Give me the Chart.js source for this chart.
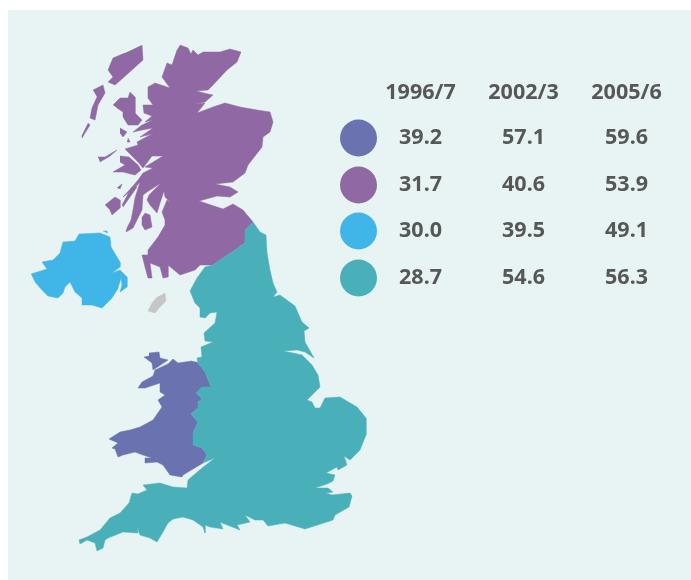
<!DOCTYPE html>
<html>
<head>
<meta charset="utf-8">
<title>UK map</title>
<script src="https://cdn.jsdelivr.net/npm/chart.js@4/dist/chart.umd.min.js"></script>
<style>
  html, body { margin: 0; padding: 0; background: #fff; }
  #wrap { position: relative; width: 691px; height: 580px; overflow: hidden; }
  #panel { position: absolute; left: 8px; top: 10px; right: 0; bottom: 0; background: #e8f4f4; }
  #map { position: absolute; left: 0; top: 0; }
</style>
</head>
<body>
<div id="wrap">
  <div id="panel"></div>
  <canvas id="map" width="691" height="580"></canvas>
</div>
<script>
//Table values
const years = ['1996/7', '2002/3', '2005/6'];
const walesValues = ['39.2', '57.1', '59.6'];
const scotlandValues = ['31.7', '40.6', '53.9'];
const irelandValues = ['30.0', '39.5', '49.1'];
const englandValues = ['28.7', '54.6', '56.3'];

//Map outlines
const england = [[253,222],[260,232],[266,235],[267,253],[270,270],[273,283],[277,292],[273,297],[280,295],[295,306],[302,322],[309,328],[304,331],[305,342],[314,358],[305,352],[297,350],[283,351],[293,353],[302,355],[312,365],[318,375],[320,387],[312,395],[307,400],[312,402],[315,408],[320,408],[325,398],[340,397],[357,407],[366,418],[366,435],[360,450],[350,460],[344,456],[347,465],[338,470],[337,467],[326,473],[335,475],[333,481],[327,484],[315,488],[328,488],[333,492],[326,493],[332,495],[350,493],[352,496],[349,507],[335,515],[333,520],[305,529],[285,523],[268,526],[263,520],[255,520],[245,515],[250,522],[237,525],[240,530],[222,523],[220,522],[223,529],[210,527],[205,525],[205,533],[203,527],[193,520],[183,517],[173,519],[168,523],[163,532],[157,542],[150,538],[140,535],[137,527],[138,533],[123,532],[108,538],[105,540],[103,548],[97,551],[95,543],[87,540],[80,544],[79,540],[87,537],[100,530],[110,518],[120,513],[129,503],[132,493],[138,494],[147,490],[143,485],[160,483],[173,487],[187,488],[188,480],[202,468],[215,458],[203,463],[207,455],[202,448],[193,445],[193,433],[198,422],[191,414],[198,408],[198,402],[202,399],[196,393],[202,387],[211,387],[205,372],[198,363],[197,358],[202,357],[201,347],[213,342],[205,341],[204,333],[215,323],[217,312],[210,313],[205,318],[200,317],[200,308],[195,303],[190,291],[197,278],[205,267],[213,265],[223,258],[235,250],[246,242],[245,230]];
const wales = [[197,362],[205,372],[211,387],[202,387],[196,393],[202,399],[198,402],[198,408],[191,414],[198,422],[193,433],[193,445],[202,448],[207,455],[203,463],[183,475],[182,477],[170,475],[163,465],[157,462],[145,463],[145,458],[152,458],[143,455],[135,452],[123,455],[118,457],[115,449],[112,448],[118,443],[109,439],[120,432],[130,430],[140,427],[153,420],[162,407],[158,400],[165,395],[160,392],[160,383],[145,388],[138,388],[142,382],[153,376],[155,370],[168,364],[173,359],[178,363],[192,361]];
const anglesey = [[149,353],[159,352],[160,358],[168,360],[153,370],[152,363],[144,357],[149,356]];
const scotland = [[180,45],[188,48],[191,54],[193,50],[198,55],[203,52],[220,52],[230,49],[241,52],[237,62],[227,70],[213,85],[208,90],[196,91],[208,94],[213,95],[205,102],[195,104],[205,103],[197,113],[213,107],[225,103],[240,107],[257,110],[270,112],[273,122],[270,132],[263,137],[262,147],[248,165],[245,173],[233,182],[215,184],[230,187],[238,192],[230,197],[217,196],[199,201],[217,207],[223,209],[233,204],[243,210],[253,222],[245,230],[246,242],[235,250],[223,258],[213,265],[200,265],[195,270],[180,275],[168,265],[168,277],[163,278],[160,267],[150,263],[152,278],[148,278],[145,267],[142,255],[148,255],[148,250],[158,237],[165,225],[165,220],[162,212],[167,200],[171,203],[165,197],[164,191],[160,203],[157,213],[150,205],[147,200],[149,195],[161,183],[147,192],[143,195],[142,210],[133,228],[126,232],[127,228],[131,220],[133,210],[135,198],[140,182],[135,188],[123,197],[133,186],[138,180],[143,173],[153,168],[145,167],[163,156],[152,156],[143,168],[138,162],[129,153],[125,149],[138,145],[137,142],[152,134],[140,137],[153,128],[142,130],[133,132],[142,125],[153,120],[145,122],[152,116],[144,113],[143,105],[153,105],[148,98],[148,87],[155,83],[170,88],[162,77],[167,63],[172,65],[177,50]];
const skye = [[113,105],[120,98],[128,98],[130,92],[135,97],[135,113],[142,120],[138,125],[128,125],[123,117],[123,112],[117,108]];
const lewis = [[142,45],[143,60],[123,78],[115,85],[108,82],[113,77],[108,70],[113,58],[125,53]];
const uist = [[93,90],[103,85],[105,93],[98,105],[95,120],[90,118],[92,108],[97,97]];
const barra = [[88,123],[90,125],[82,138],[82,135]];
const rum = [[120,128],[127,132],[123,137],[120,133]];
const eigg = [[128,138],[130,142],[127,142]];
const tiree = [[98,157],[105,157],[117,150],[110,156],[100,162]];
const mull = [[120,156],[129,157],[138,165],[141,170],[135,175],[123,172],[113,172],[125,165],[120,162]];
const islay = [[105,205],[115,197],[120,200],[120,208],[112,215],[110,210]];
const jura = [[122,205],[132,187],[137,187],[123,207]];
const colonsay = [[117,188],[122,184],[120,189]];
const arran = [[145,213],[150,215],[152,227],[145,230],[142,225],[142,217]];
const northernIreland = [[31,274],[47,269],[42,262],[53,260],[60,253],[63,242],[75,241],[79,234],[100,233],[110,237],[111,247],[120,262],[120,267],[112,273],[120,270],[127,277],[127,287],[120,292],[122,285],[121,278],[118,288],[117,290],[112,298],[102,308],[92,305],[82,305],[82,298],[75,292],[70,282],[65,287],[63,293],[58,298],[48,296],[42,290],[35,282]];
const rathlin = [[103,231],[107,231],[107,233]];
const isleOfMan = [[165,293],[166,301],[160,307],[155,313],[148,311],[152,303],[157,297]];

const walesColor = '#6a72b0';
const scotlandColor = '#8f68a4';
const irelandColor = '#40b5e7';
const englandColor = '#49b0ba';
const manColor = '#c6c6c6';
const textColor = '#575757';

//Layout of the little table
const legendX = 358.5;
const columnX = [420.5, 523.5, 626.5];
const headerY = 93;
const rowY = [138, 185, 231, 278];

const outline = (points, color) => ({
  type: 'scatter',
  data: points.map(([x, y]) => ({x, y})),
  showLine: true,
  fill: 'shape',
  backgroundColor: color,
  borderColor: color,
  borderWidth: 0.5,
  pointRadius: 0
});

const rows = [
  {color: walesColor, values: walesValues},
  {color: scotlandColor, values: scotlandValues},
  {color: irelandColor, values: irelandValues},
  {color: englandColor, values: englandValues}
];

const tableText = {
  id: 'tableText',
  afterDatasetsDraw(chart) {
    const ctx = chart.ctx;
    const x = chart.scales.x;
    const y = chart.scales.y;
    ctx.save();
    ctx.fillStyle = textColor;
    ctx.font = 'bold 21.5px "Noto Sans"';
    ctx.textAlign = 'center';
    ctx.textBaseline = 'middle';
    years.forEach((year, i) => {
      ctx.fillText(year, x.getPixelForValue(columnX[i]), y.getPixelForValue(headerY));
    });
    rows.forEach((row, r) => {
      row.values.forEach((value, i) => {
        ctx.fillText(value, x.getPixelForValue(columnX[i]), y.getPixelForValue(rowY[r]));
      });
    });
    ctx.restore();
  }
};

const datasets = [
  outline(england, englandColor),
  outline(wales, walesColor),
  outline(anglesey, walesColor),
  outline(scotland, scotlandColor),
  outline(skye, scotlandColor),
  outline(lewis, scotlandColor),
  outline(uist, scotlandColor),
  outline(barra, scotlandColor),
  outline(rum, scotlandColor),
  outline(eigg, scotlandColor),
  outline(tiree, scotlandColor),
  outline(mull, scotlandColor),
  outline(islay, scotlandColor),
  outline(jura, scotlandColor),
  outline(colonsay, scotlandColor),
  outline(arran, scotlandColor),
  outline(northernIreland, irelandColor),
  outline(rathlin, irelandColor),
  outline(isleOfMan, manColor),
  {
    type: 'scatter',
    data: rowY.map((y) => ({x: legendX, y})),
    backgroundColor: rows.map((row) => row.color),
    borderWidth: 0,
    pointRadius: 18.5
  }
];

new Chart(document.getElementById('map'), {
  type: 'scatter',
  data: {datasets},
  plugins: [tableText],
  options: {
    responsive: false,
    animation: false,
    layout: {padding: 0, autoPadding: false},
    plugins: {legend: {display: false}, tooltip: {enabled: false}},
    scales: {
      x: {type: 'linear', display: false, min: 0, max: 691},
      y: {type: 'linear', display: false, min: 0, max: 580, reverse: true}
    }
  }
});
</script>
</body>
</html>
